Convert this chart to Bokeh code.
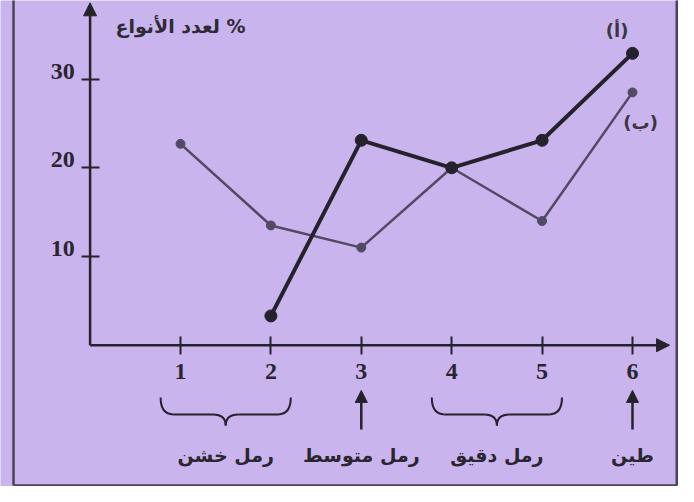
from bokeh.plotting import figure
from bokeh.models import Range1d, LinearAxis, FixedTicker, Arrow, NormalHead
from bokeh.core.properties import value
from bokeh.embed import file_html
from bokeh.resources import INLINE

# ---- data ----
x_positions = [1, 2, 3, 4, 5, 6]
series_a_x = [2, 3, 4, 5, 6]
series_a = [3.3, 23.1, 20.0, 23.1, 32.9]          # (أ)
series_b_x = [1, 2, 3, 4, 5, 6]
series_b = [22.7, 13.5, 11.0, 20.0, 14.0, 28.5]   # (ب)
y_ticks = [10, 20, 30]
y_tick_labels = ["10", "20", "30"]
y_title = "\u200f% لعدد الأنواع"
series_names = ["(أ)", "(ب)"]
soil_labels = ["رمل خشن", "رمل متوسط", "رمل دقيق", "طين"]
soil_groups = [(1, 2), (3, 3), (4, 5), (6, 6)]

BG = "#c9b4ee"
INK = "#26222c"
INK2 = "#524a64"
AR_FONT = "DejaVu Sans"
NUM_FONT = "Liberation Serif"

p = figure(width=678, height=486,
           x_range=Range1d(-0.991, 6.509), y_range=Range1d(-15.93, 38.86),
           output_backend="svg", toolbar_location=None,
           x_axis_location=None, y_axis_location=None,
           min_border=0, background_fill_color=BG, border_fill_color=BG,
           outline_line_color=None)
p.xgrid.visible = False
p.ygrid.visible = False

# axes at the origin
xax = LinearAxis(fixed_location=0, ticker=FixedTicker(ticks=x_positions))
yax = LinearAxis(fixed_location=0, ticker=FixedTicker(ticks=y_ticks))
for ax in (xax, yax):
    ax.axis_line_color = None
    ax.major_tick_line_color = INK
    ax.major_tick_line_width = 2
    ax.major_tick_in = 9
    ax.major_tick_out = 9
    ax.minor_tick_line_color = None
    ax.major_label_text_font = NUM_FONT
    ax.major_label_text_font_style = "bold"
    ax.major_label_text_font_size = "24px"
    ax.major_label_text_color = "#2a2630"
xax.major_label_standoff = 10
yax.major_label_text_color = None
p.add_layout(xax, "below")
p.add_layout(yax, "left")

# y tick labels sitting just above their ticks
p.text(x=[-0.17] * len(y_ticks), y=y_ticks, text=y_tick_labels, text_font=value(NUM_FONT),
       text_font_style="bold", text_font_size="24px", text_color="#2a2630",
       text_align="right", text_baseline="middle", y_offset=-8)

# axis lines with arrow heads
p.add_layout(Arrow(x_start=0, y_start=0, x_end=6.41, y_end=0, line_width=2.5, line_color=INK,
                   end=NormalHead(size=13, fill_color=INK, line_color=INK)))
p.add_layout(Arrow(x_start=0, y_start=0, x_end=0, y_end=38.6, line_width=2.5, line_color=INK,
                   end=NormalHead(size=13, fill_color=INK, line_color=INK)))

# outer frame lines
p.segment(x0=[-0.847, -0.847, 6.49], y0=[40, -15.82, 40],
          x1=[-0.847, 6.49, 6.49], y1=[-15.82, -15.82, -15.82],
          line_color="#4a4458", line_width=2.5)

# series (ب) lighter
p.line(series_b_x, series_b, line_color=INK2, line_width=2.5)
p.scatter(series_b_x, series_b, size=9, fill_color=INK2, line_color=INK2)
# series (أ) dark
p.line(series_a_x, series_a, line_color=INK, line_width=4)
p.scatter(series_a_x, series_a, size=12, fill_color=INK, line_color=INK)

# series labels
p.text(x=[series_a_x[-1] - 0.17, series_b_x[-1] + 0.09],
       y=[series_a[-1] + 2.6, series_b[-1] - 3.4],
       text=series_names, text_font=value(AR_FONT), text_font_style="bold",
       text_font_size="18px", text_color="#3a3444", text_align="center", text_baseline="middle")

# y title
p.text(x=[1.0], y=[36.0], text=[y_title], text_font=value(AR_FONT), text_font_style="bold",
       text_font_size="19px", text_color="#2e2a36", text_align="center", text_baseline="middle")

# braces / arrows and soil labels under the x axis
y_top, y_mid, y_tip = -5.9, -7.8, -9.05
r = 0.14
qx0, qy0, qx1, qy1, qcx, qcy = [], [], [], [], [], []
sx0, sx1 = [], []
centers = []
for (a, b) in soil_groups:
    c = (a + b) / 2
    centers.append(c)
    if a == b:
        p.add_layout(Arrow(x_start=c, y_start=-9.5, x_end=c, y_end=-5.1, line_width=2.5,
                           line_color=INK, end=NormalHead(size=12, fill_color=INK, line_color=INK)))
    else:
        hw = (b - a) / 2 + 0.22
        l, rr = c - hw, c + hw
        qx0 += [l, c - r, c + r, rr]
        qy0 += [y_top, y_mid, y_mid, y_top]
        qx1 += [l + r, c, c, rr - r]
        qy1 += [y_mid, y_tip, y_tip, y_mid]
        qcx += [l, c, c, rr]
        qcy += [y_mid, y_mid, y_mid, y_mid]
        sx0 += [l + r, c + r]
        sx1 += [c - r, rr - r]
p.quadratic(x0=qx0, y0=qy0, x1=qx1, y1=qy1, cx=qcx, cy=qcy, line_color=INK, line_width=2)
p.segment(x0=sx0, y0=[y_mid] * len(sx0), x1=sx1, y1=[y_mid] * len(sx1), line_color=INK, line_width=2)

p.text(x=centers, y=[-12.4] * len(centers), text=soil_labels, text_font=value(AR_FONT),
       text_font_style="bold", text_font_size="19px", text_color="#2a2630",
       text_align="center", text_baseline="middle")

open("out.html", "w").write(file_html(p, INLINE))
